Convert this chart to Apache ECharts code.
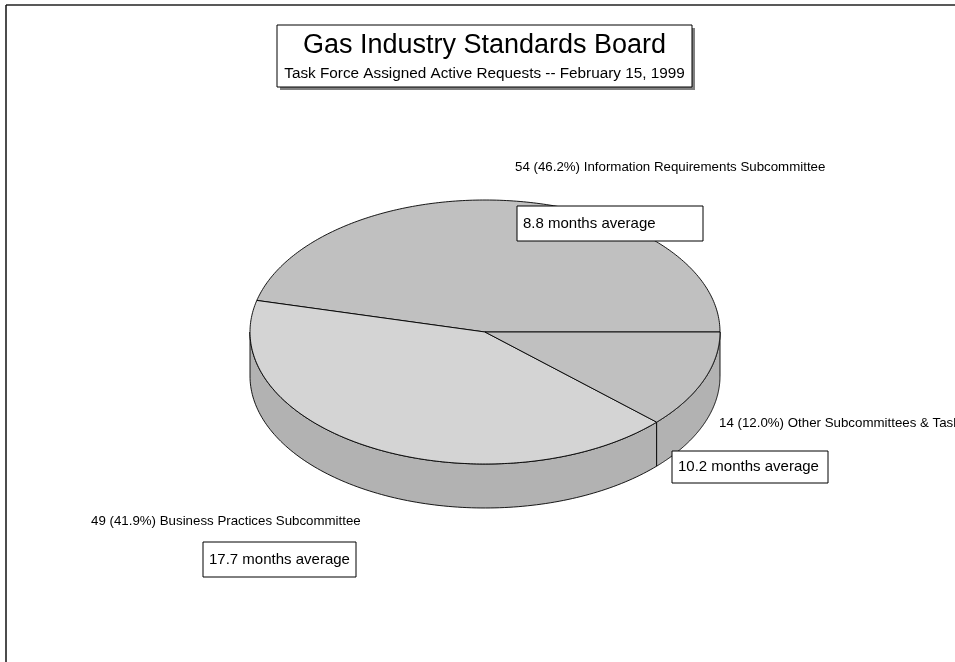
<!DOCTYPE html>
<html>
<head>
<meta charset="utf-8">
<script src="https://cdn.jsdelivr.net/npm/echarts@6/dist/echarts.min.js"></script>
<style>html,body{margin:0;padding:0;background:#fff}#c{width:955px;height:662px}</style>
</head>
<body>
<div id="c"></div>
<script>
const categories = ['Information Requirements Subcommittee', 'Business Practices Subcommittee', 'Other Subcommittees & Task Forces'];
const counts = [54, 49, 14];
const avgMonths = ['8.8', '17.7', '10.2'];
const topColors = ['#c0c0c0', '#d4d4d4', '#c0c0c0'];
const sideColor = '#b2b2b2';
const titleText = 'Gas Industry Standards Board';
const subtitleText = 'Task Force Assigned Active Requests -- February 15, 1999';

const FONT = '"Liberation Sans", Arial, sans-serif';
const total = counts.reduce((a, b) => a + b, 0);
const pct = counts.map(v => (v / total * 100).toFixed(1));

// pie layout
const CX = 485, CY = 332, RX = 235, RY = 132, DEPTH = 44;

function pt(t, dy) { return [CX + RX * Math.cos(t), CY - RY * Math.sin(t) + (dy || 0)]; }

function renderItem(params, api) {
  const i = params.dataIndex;
  let before = 0;
  for (let k = 0; k < i; k++) before += counts[k];
  const v = api.value(1);
  const a0 = before / total * 2 * Math.PI;
  const a1 = (before + v) / total * 2 * Math.PI;
  const children = [];
  const s0 = Math.max(a0, Math.PI), s1 = Math.min(a1, 2 * Math.PI);
  if (s1 > s0) {
    const pts = [];
    const n = 120;
    for (let j = 0; j <= n; j++) pts.push(pt(s0 + (s1 - s0) * j / n));
    for (let j = n; j >= 0; j--) pts.push(pt(s0 + (s1 - s0) * j / n, DEPTH));
    children.push({
      type: 'polygon', shape: { points: pts },
      style: { fill: sideColor, stroke: '#000', lineWidth: 0.9 }
    });
  }
  const tp = [[CX, CY]];
  const n2 = 200;
  for (let j = 0; j <= n2; j++) tp.push(pt(a0 + (a1 - a0) * j / n2));
  children.push({
    type: 'polygon', shape: { points: tp },
    style: { fill: topColors[i], stroke: '#000', lineWidth: 0.9 }
  });
  return { type: 'group', children: children };
}

function box(x, y, w, h, text) {
  return [
    { type: 'rect', z: 100, shape: { x: x, y: y, width: w, height: h }, style: { fill: '#fff', stroke: '#000', lineWidth: 1 } },
    { type: 'text', z: 101, x: x + 6, y: y + h / 2, style: { text: text, font: '15px ' + FONT, fill: '#000', textVerticalAlign: 'middle' } }
  ];
}
function label(x, y, text) {
  return { type: 'text', z: 100, x: x, y: y, style: { text: text, font: '13.3px ' + FONT, fill: '#000', textVerticalAlign: 'middle' } };
}

const chart = echarts.init(document.getElementById('c'), null, { renderer: 'canvas' });
chart.setOption({
  backgroundColor: '#fff',
  animation: false,
  series: [{
    type: 'custom',
    coordinateSystem: 'none',
    z: 1,
    renderItem: renderItem,
    data: counts.map((v, i) => [i, v])
  }],
  graphic: [
    { type: 'line', z: 100, shape: { x1: 6, y1: 5, x2: 955, y2: 5 }, style: { stroke: '#222', lineWidth: 1.5 } },
    { type: 'line', z: 100, shape: { x1: 6, y1: 5, x2: 6, y2: 662 }, style: { stroke: '#111', lineWidth: 1.5 } },
    { type: 'rect', z: 100, shape: { x: 280, y: 28, width: 415, height: 62 }, style: { fill: '#808080' } },
    { type: 'rect', z: 101, shape: { x: 277, y: 25, width: 415, height: 62 }, style: { fill: '#fff', stroke: '#000', lineWidth: 1 } },
    { type: 'text', z: 102, x: 484.5, y: 46, style: { text: titleText, font: '27px ' + FONT, fill: '#000', textAlign: 'center', textVerticalAlign: 'middle' } },
    { type: 'text', z: 102, x: 484.5, y: 74, style: { text: subtitleText, font: '15.3px ' + FONT, fill: '#000', textAlign: 'center', textVerticalAlign: 'middle' } },
    label(515, 167, counts[0] + ' (' + pct[0] + '%) ' + categories[0]),
    label(91, 521, counts[1] + ' (' + pct[1] + '%) ' + categories[1]),
    label(719, 423, counts[2] + ' (' + pct[2] + '%) ' + categories[2])
  ].concat(
    box(517, 206, 186, 35, avgMonths[0] + ' months average'),
    box(203, 542, 153, 35, avgMonths[1] + ' months average'),
    box(672, 451, 156, 32, avgMonths[2] + ' months average')
  )
});
</script>
</body>
</html>
